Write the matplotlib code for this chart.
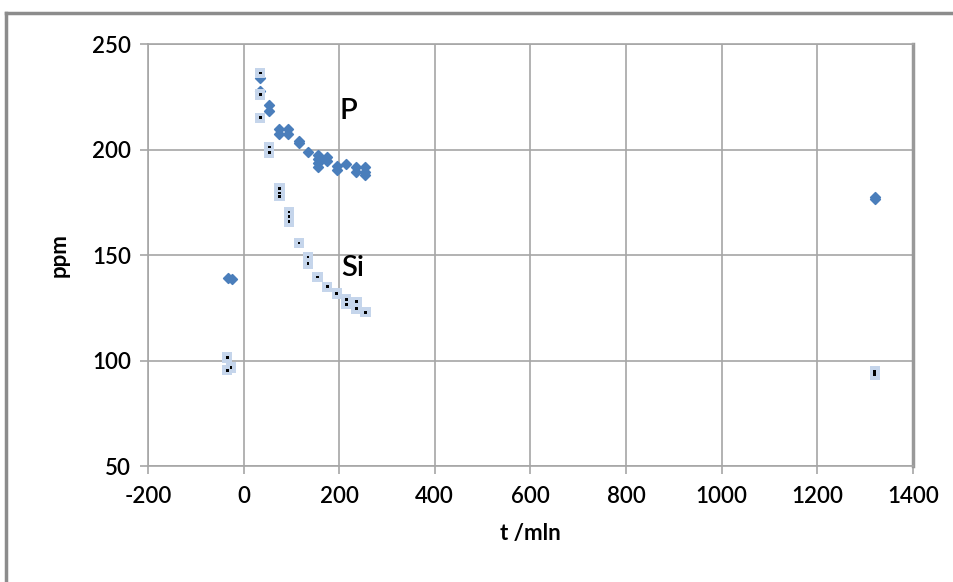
import matplotlib
matplotlib.use("Agg")
import matplotlib.pyplot as plt
from matplotlib.lines import Line2D

# ---- data ----
p_t = [-33, -25, 35, 35, 54, 54, 75, 75, 94, 94, 116, 116, 135,
       155, 155, 155, 155, 175, 175, 195, 195, 215, 236, 236,
       255, 255, 255, 1320, 1320]
p_v = [139, 138.5, 234, 228, 221, 218.5, 210, 207.5, 210, 207.5, 204, 203, 199,
       197.5, 195.5, 193.5, 192, 196.5, 194.7, 192.5, 190.5, 193, 192, 189.5,
       192, 189.5, 188, 177.5, 176.5]

si_t = [-34, -34, -26, 35, 35, 35, 54, 54, 75, 75, 75, 95, 95, 95, 116,
        135, 135, 155, 175, 195, 215, 215, 236, 236, 255, 1320, 1320]
si_v = [101.5, 95.5, 96.8, 236.4, 226.2, 215.1, 201.3, 198.7, 181.6, 179.5, 178,
        170.5, 168.2, 165.8, 155.8, 149.2, 146.1, 139.7, 135, 131.8, 129.1, 126.8,
        127.9, 124.7, 123, 95, 93.5]

x_ticks = [-200, 0, 200, 400, 600, 800, 1000, 1200, 1400]
y_ticks = [50, 100, 150, 200, 250]
series_labels = ["P", "Si"]
label_pos = [(201, 218.5), (205, 144)]

plt.rcParams['font.family'] = ['Lato', 'DejaVu Sans']
plt.rcParams['axes.unicode_minus'] = False

fig = plt.figure(figsize=(9.54, 5.82), dpi=100)
ax = fig.add_axes([0.155, 0.199, 0.802, 0.725])

grid_c = '#a6a6a6'
ax.set_xlim(-200, 1400)
ax.set_ylim(50, 250)
ax.set_xticks(x_ticks)
ax.set_yticks(y_ticks)
ax.grid(True, color=grid_c, linewidth=1.2)
ax.set_axisbelow(True)
for s in ax.spines.values():
    s.set_color(grid_c)
    s.set_linewidth(1.2)
ax.spines['right'].set_linewidth(2.5)
ax.spines['right'].set_color('#999999')
ax.tick_params(axis='both', colors=grid_c, length=6, width=1.2, labelcolor='black',
               labelsize=16)
ax.tick_params(axis='x', pad=8)
ax.tick_params(axis='y', pad=6)
for lab in ax.get_xticklabels() + ax.get_yticklabels():
    lab.set_fontweight('semibold')

ax.scatter(p_t, p_v, marker='D', s=24, color='#4a7ebb', edgecolors='#4a7ebb',
           linewidths=1.2, zorder=3)
ax.scatter(si_t, si_v, marker='s', s=55, color='#c5d5eb', edgecolors='none', zorder=3)
ax.scatter(si_t, si_v, marker='s', s=4, color='black', edgecolors='none', zorder=4)

for lab, (lx, ly) in zip(series_labels, label_pos):
    ax.text(lx, ly, lab, fontsize=21, color='black', ha='left', va='center',
            fontweight='semibold')

ax.set_xlabel('t /mln', fontsize=16, fontweight='bold', labelpad=12)
ax.set_ylabel('ppm', fontsize=16, fontweight='bold', labelpad=16)

# outer chart frame (left and top edges)
fig.add_artist(Line2D([6/954, 6/954], [0, 1 - 13/582], transform=fig.transFigure,
                      color='#8c8c8c', linewidth=2.5))
fig.add_artist(Line2D([6/954, 1], [1 - 13/582, 1 - 13/582], transform=fig.transFigure,
                      color='#8c8c8c', linewidth=2.5))

fig.savefig('out.png', dpi=100)
